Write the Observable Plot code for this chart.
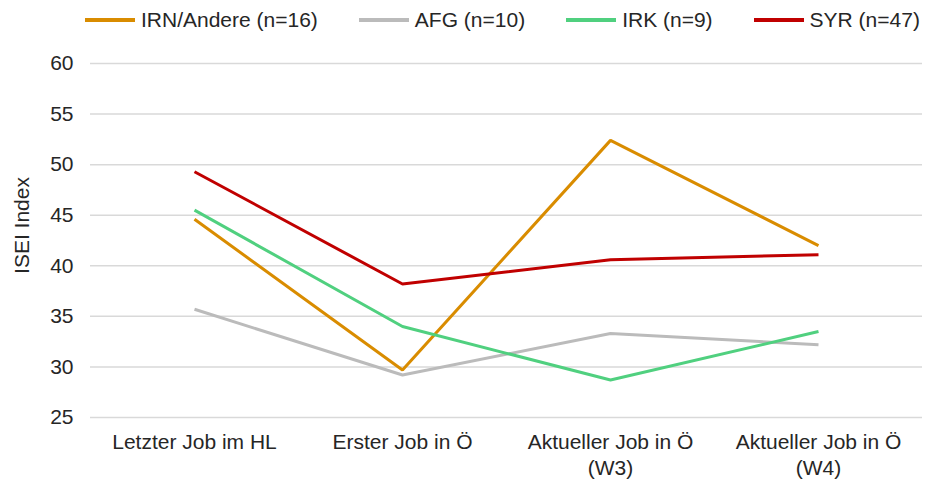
<!DOCTYPE html>
<html>
<head>
<meta charset="utf-8">
<script src="https://cdn.jsdelivr.net/npm/d3@7"></script>
<script src="https://cdn.jsdelivr.net/npm/@observablehq/plot@0.6"></script>
<style>
  html, body { margin: 0; padding: 0; background: #fff; }
  body { width: 925px; height: 482px; overflow: hidden; font-family: "Liberation Sans", Arial, sans-serif; }
  #legend { height: 40px; display: flex; align-items: center; padding-left: 85px; box-sizing: border-box; font-size: 21px; color: #262626; white-space: nowrap; }
  .item { display: flex; align-items: center; margin-right: 41px; flex: none; }
  .sw { width: 50px; height: 4px; margin-right: 6px; }
</style>
</head>
<body>
<div id="legend"></div>
<div id="chart"></div>
<script>
const categories = ["Letzter Job im HL", "Erster Job in Ö", "Aktueller Job in Ö\n(W3)", "Aktueller Job in Ö\n(W4)"];
const seriesNames = ["IRN/Andere (n=16)", "AFG (n=10)", "IRK (n=9)", "SYR (n=47)"];
const colors = ["#D98C00", "#BBBBBB", "#50D07F", "#C00000"];
const irn = [44.6, 29.7, 52.4, 42.0];
const afg = [35.7, 29.2, 33.3, 32.2];
const irk = [45.5, 34.0, 28.7, 33.5];
const syr = [49.3, 38.2, 40.6, 41.1];
const yTicks = [25, 30, 35, 40, 45, 50, 55, 60];

const seriesValues = [irn, afg, irk, syr];
const data = [];
seriesNames.forEach((s, i) => categories.forEach((c, j) => data.push({series: s, cat: c, value: seriesValues[i][j]})));

const legend = document.getElementById("legend");
seriesNames.forEach((s, i) => {
  const it = document.createElement("div");
  it.className = "item";
  it.innerHTML = `<div class="sw" style="background:${colors[i]}"></div><span>${s}</span>`;
  legend.appendChild(it);
});

const chart = Plot.plot({
  width: 925,
  height: 442,
  marginLeft: 90,
  marginRight: 3,
  marginTop: 23,
  marginBottom: 65,
  style: { fontFamily: "Liberation Sans, Arial, sans-serif", fontSize: "21px", color: "#262626", background: "#fff" },
  x: { type: "point", domain: categories, padding: 0.5, label: null },
  y: { domain: [25, 60], ticks: yTicks, label: null },
  color: { domain: seriesNames, range: colors },
  marks: [
    Plot.gridY(yTicks, { stroke: "#D9D9D9", strokeOpacity: 1, strokeWidth: 1.5 }),
    Plot.axisY({ ticks: yTicks, tickSize: 0, tickPadding: 17, label: null, fontSize: 21 }),
    Plot.axisX({ tickSize: 0, tickPadding: 14, label: null, fontSize: 21, lineHeight: 1.2 }),
    Plot.line(data, { x: "cat", y: "value", z: "series", stroke: "series", strokeWidth: 3, strokeLinejoin: "miter", strokeLinecap: "butt" }),
    Plot.text(["ISEI Index"], { frameAnchor: "left", textAnchor: "middle", dx: -68, dy: -15, rotate: -90, fontSize: 21, fill: "#262626" })
  ]
});
document.getElementById("chart").appendChild(chart);
</script>
</body>
</html>
